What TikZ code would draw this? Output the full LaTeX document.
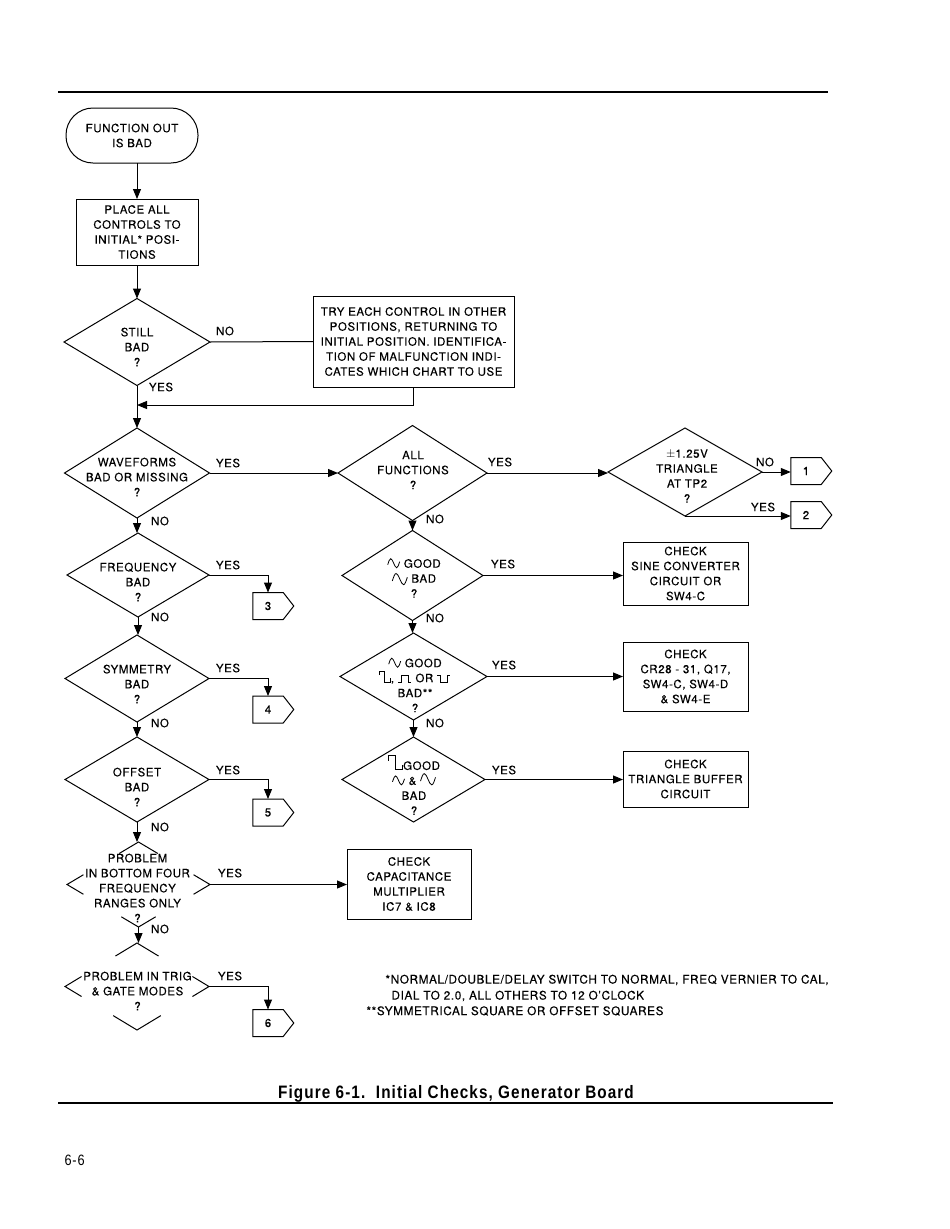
\documentclass[tikz,border=0pt]{standalone}
\usepackage{fontspec}
\setmainfont{TeX Gyre Heros}[LetterSpace=5,FakeBold=0.2]
\newfontfamily\capfont{Liberation Sans}[FakeStretch=0.85,LetterSpace=6]
\usetikzlibrary{shapes.geometric,shapes.symbols,arrows.meta,calc}

\newcommand{\sinesym}[1][1]{\tikz[baseline=0pt,x=#1pt,y=#1pt,line width=.8pt]\draw (0,3) sin (3,9) cos (6,4.5) sin (9,0) cos (12,6);}
\newcommand{\squaresym}[1][1]{\tikz[baseline=0pt,x=#1pt,y=#1pt,line width=.8pt]\draw (0,7)--(0,11)--(5,11)--(5,0)--(11,0)--(11,4);}
\newcommand{\pulseup}{\tikz[baseline=0pt,x=1pt,y=1pt,line width=.8pt]\draw (0,0)--(3,0)--(3,7)--(10,7)--(10,0)--(13,0);}
\newcommand{\pulsedn}{\tikz[baseline=0pt,x=1pt,y=1pt,line width=.8pt]\draw (0,7)--(3,7)--(3,0)--(10,0)--(10,7)--(13,7);}
\newcommand{\brokendia}[4]{%
  \draw ($(#1.north)!#2!(#1.west)$) -- (#1.north) -- ($(#1.north)!#2!(#1.east)$);
  \draw ($(#1.west)!#3!(#1.north)$) -- (#1.west) -- ($(#1.west)!#3!(#1.south)$);
  \draw ($(#1.east)!#3!(#1.north)$) -- (#1.east) -- ($(#1.east)!#3!(#1.south)$);
  \draw ($(#1.south)!#4!(#1.west)$) -- (#1.south) -- ($(#1.south)!#4!(#1.east)$);}

\begin{document}
\begin{tikzpicture}[x=1pt,y=-1pt,line width=1pt,
  >={Triangle[length=10pt,width=8pt]},
  every node/.style={font=\fontsize{11.5}{15}\selectfont},
  txt/.style={align=center,inner sep=0pt},
  box/.style={draw,rectangle,align=center,inner sep=0pt,outer sep=0pt,minimum width=125},
  dia/.style={draw,diamond,inner sep=0pt,outer sep=0pt,minimum width=145,minimum height=88},
  conn/.style={draw,signal,signal to=east,signal pointer angle=104,inner sep=0pt,outer sep=0pt,
    minimum width=41,minimum height=27},
  lab/.style={inner sep=0pt}]

\useasboundingbox (0,0) rectangle (950,1229);

\draw[line width=1.2pt] (58,92) -- (828,92);

\node[draw,rounded corners=27pt,minimum width=132,minimum height=55,inner sep=0pt,outer sep=0pt,align=center]
  (start) at (132,135.5) {FUNCTION OUT\\IS BAD};
\node[box,minimum width=122,minimum height=66] (place) at (137,232) {PLACE ALL\\CONTROLS TO\\INITIAL* POSI-\\TIONS};

\node[dia,minimum width=146,minimum height=87] (still) at (137,342) {};
\node[txt] (stillt) at (137,347) {STILL\\BAD\\?};
\node[box,minimum width=201,minimum height=91] (try) at (413.5,341.5)
  {TRY EACH CONTROL IN OTHER\\POSITIONS, RETURNING TO\\INITIAL POSITION. IDENTIFICA-\\TION OF MALFUNCTION INDI-\\CATES WHICH CHART TO USE};
\coordinate (j1) at (137,405);

% left column
\node[dia,minimum height=90] (wave) at (137,473) {};
\node[txt] (wavet) at (137,477) {WAVEFORMS\\BAD OR MISSING\\?};
\node[dia,minimum width=142,minimum height=84] (freq) at (138,575) {};
\node[txt] (freqt) at (138,582) {FREQUENCY\\BAD\\?};
\node[dia,minimum width=144,minimum height=87] (sym) at (137,678.5) {};
\node[txt] (symt) at (137,684) {SYMMETRY\\BAD\\?};
\node[dia,minimum width=144,minimum height=85] (off) at (137,779.5) {};
\node[txt] (offt) at (137,787) {OFFSET\\BAD\\?};

\node[dia,draw=none,minimum width=143,minimum height=85] (pb) at (138.5,884.5) {};
\brokendia{pb}{0.27}{0.23}{0.24}
\node[txt] (pbt) at (137.5,888) {PROBLEM\\IN BOTTOM FOUR\\FREQUENCY\\RANGES ONLY\\?};
\node[dia,draw=none,minimum width=144,minimum height=87] (pt) at (137,986.5) {};
\brokendia{pt}{0.3}{0.23}{0.33}
\node[txt] (ptt) at (137.5,991) {PROBLEM IN TRIG\\\& GATE MODES\\?};

% middle column
\node[dia,minimum width=149,minimum height=95] (allf) at (412.5,473) {};
\node[txt] (allft) at (413,470) {ALL\\FUNCTIONS\\?};
\node[dia,minimum width=141,minimum height=90] (sine) at (412.5,575.5) {};
\node[txt] (sinet) at (414,578) {\sinesym\ GOOD\\\raisebox{-2pt}{\sinesym[1.25]}\ BAD\\?};
\node[dia,minimum width=147,minimum height=87] (sq) at (413.5,676.5) {};
\node[txt] (sqt) at (415,685) {\sinesym\ GOOD\\\squaresym, \pulseup\ OR \pulsedn\\BAD**\\?};
\node[dia,minimum width=143,minimum height=85] (tb) at (413.5,779.5) {};
\node[txt] (tbt) at (414,785) {\squaresym[1.3]GOOD\\\sinesym\ \& \sinesym[1.25]\\BAD\\?};

% right column
\node[dia,minimum width=154,minimum height=88] (tri) at (685,472) {};
\node[txt] (trit) at (687,476) {$\pm$1.25V\\TRIANGLE\\AT TP2\\?};
\node[conn] (c1) at (806,471) {1};
\node[conn] (c2) at (806,515) {2};

\node[box,minimum height=63] (cksine) at (685.5,573.5) {CHECK\\SINE CONVERTER\\CIRCUIT OR\\SW4-C};
\node[box,minimum height=69] (ckcr) at (685.5,676.5) {CHECK\\CR28 - 31, Q17,\\SW4-C, SW4-D\\\& SW4-E};
\node[box,minimum height=56] (cktb) at (685.5,779) {CHECK\\TRIANGLE BUFFER\\CIRCUIT};
\node[box,minimum width=124,minimum height=70] (ckcap) at (409,884) {CHECK\\CAPACITANCE\\MULTIPLIER\\IC7 \& IC8};

\node[conn] (c3) at (268,606) {3};
\node[conn] (c4) at (268,709.5) {4};
\node[conn] (c5) at (268,812.5) {5};
\node[conn] (c6) at (268,1023) {6};

\draw[->] (place.north |- start.south) -- (place.north);
\draw[->] (place.south) -- (still.north);
\draw (still.east) -- (try.west);
\draw[->] (still.south) -- (wave.north);
\draw[->] (try.south) |- (j1);
\draw[->] (wave.east) -- (allf.west);
\draw[->] (allf.east) -- (allf.east -| tri.west);
\draw[->] (tri.east) -- (tri.east -| c1.west);
\draw[->] (tri.south) -- (tri.south -| c2.west);
\draw[->] (wave.south) -- (wave.south |- freq.north);
\draw[->] (freq.east) -| (c3.north);
\draw[->] (freq.south) -- (freq.south |- sym.north);
\draw[->] (sym.east) -| (c4.north);
\draw[->] (sym.south) -- (off.north);
\draw[->] (off.east) -| (c5.north);
\draw[->] (off.south) -- (off.south |- pb.north);
\draw[->] (pb.east) -- (pb.east -| ckcap.west);
\draw[->] (pb.south) -- (pb.south |- pt.north);
\draw[->] (pt.east) -| (c6.north);
\draw[->] (allf.south) -- (sine.north);
\draw[->] (sine.east) -- (sine.east -| cksine.west);
\draw[->] (sine.south) -- (sine.south |- sq.north);
\draw[->] (sq.east) -- (sq.east -| ckcr.west);
\draw[->] (sq.south) -- (tb.north);
\draw[->] (tb.east) -- (tb.east -| cktb.west);

\foreach \t/\x/\y [count=\i] in {NO/225/331, YES/161/387, YES/228/463, NO/160/521, YES/228/565,
    NO/160/617, YES/228/668, NO/160/723, YES/228/770, NO/160/827, YES/230/873, NO/160/929,
    YES/230/976, YES/500/462, NO/435/519, NO/765/462, YES/763/507, YES/503/564, NO/435/618,
    YES/504/665, NO/435/723, YES/504/770}
  \node[lab] (lab\i) at (\x,\y) {\t};

\node[lab,anchor=west,font=\fontsize{11.8}{15}\selectfont] (note1) at (385,980) {*NORMAL/DOUBLE/DELAY SWITCH TO NORMAL, FREQ VERNIER TO CAL,};
\node[lab,anchor=west,font=\fontsize{11.8}{15}\selectfont] (note2) at (391,996) {DIAL TO 2.0, ALL OTHERS TO 12 O'CLOCK};
\node[lab,anchor=west,font=\fontsize{11.8}{15}\selectfont] (note3) at (366,1011) {**SYMMETRICAL SQUARE OR OFFSET SQUARES};

\node[lab,font=\capfont\bfseries\fontsize{18}{20}\selectfont] (cap) at (456,1094) {Figure 6-1.\ \ Initial Checks, Generator Board};
\draw[line width=1.8pt] (58,1103) -- (833,1103);
\node[lab,anchor=west,font=\capfont\fontsize{15}{17}\selectfont] (pgno) at (64,1160) {6-6};

\end{tikzpicture}
\end{document}
